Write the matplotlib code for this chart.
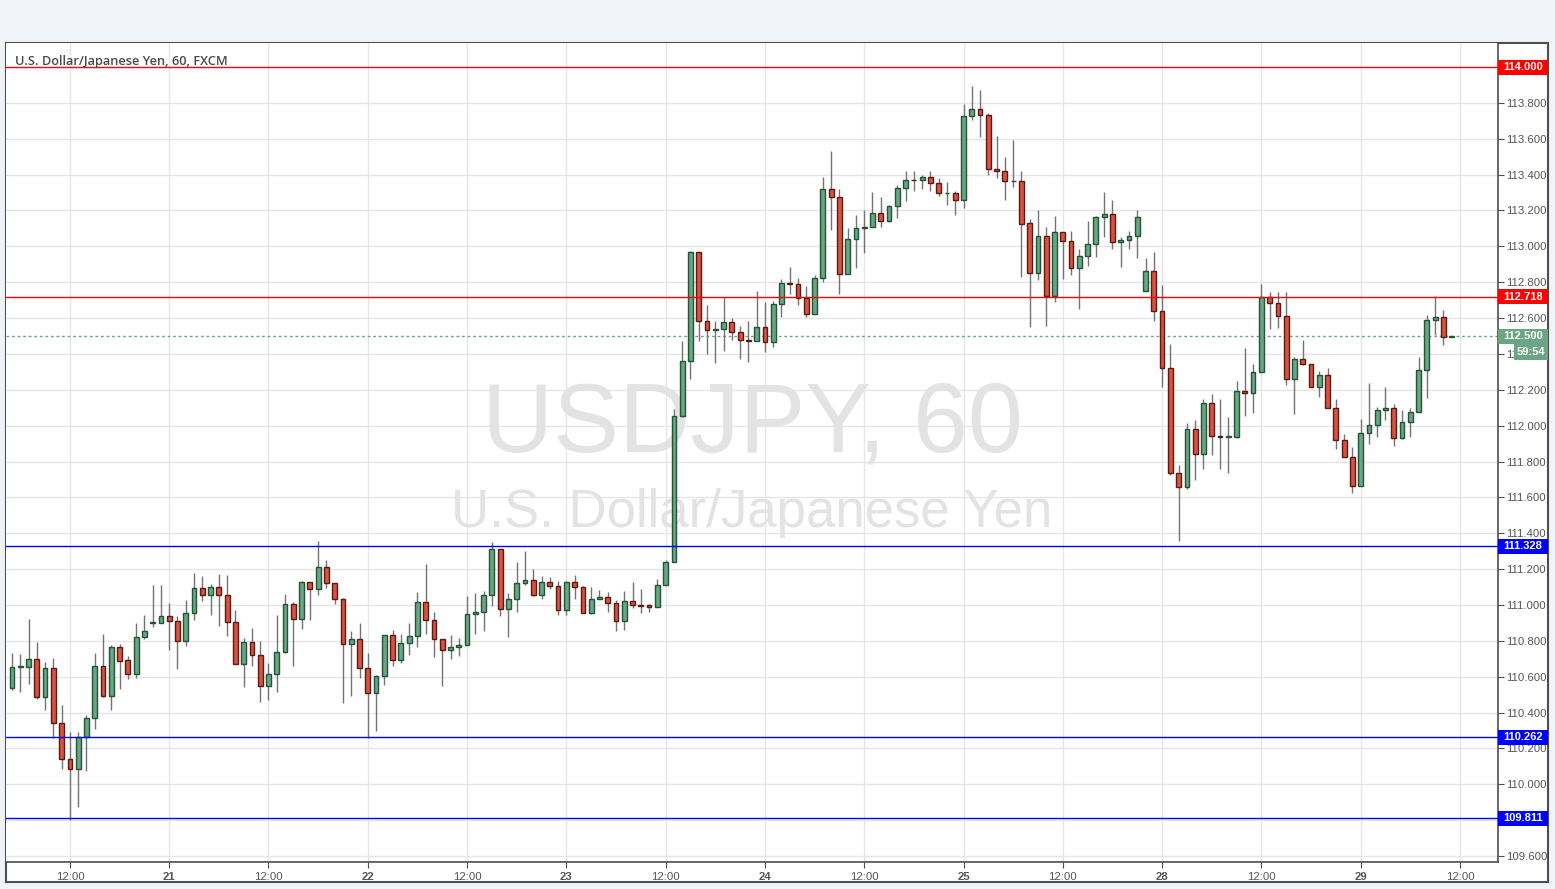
import numpy as np
import matplotlib.pyplot as plt
from matplotlib.patches import Rectangle
import matplotlib.transforms as mtransforms

# hourly USDJPY candles, oldest first
opens = [110.535, 110.652, 110.656, 110.697, 110.485, 110.647, 110.340, 110.140, 110.084, 110.266,
         110.368, 110.658, 110.495, 110.764, 110.692, 110.613, 110.820, 110.899, 110.902, 110.937,
         110.909, 110.797, 110.954, 111.093, 111.054, 111.099, 111.054, 110.903, 110.669, 110.792,
         110.719, 110.547, 110.613, 110.736, 111.004, 110.920, 111.126, 111.087, 111.210, 111.121,
         111.032, 110.781, 110.809, 110.647, 110.507, 110.602, 110.831, 110.691, 110.786, 110.825,
         111.015, 110.915, 110.809, 110.747, 110.764, 110.775, 110.948, 110.959, 111.054, 111.310,
         110.976, 111.032, 111.121, 111.138, 111.054, 111.126, 111.104, 110.970, 111.126, 111.099,
         110.953, 111.032, 111.043, 111.009, 110.909, 111.020, 110.999, 110.998, 110.987, 111.110,
         111.239, 112.056, 112.363, 112.967, 112.582, 112.532, 112.537, 112.577, 112.521, 112.478,
         112.471, 112.549, 112.465, 112.677, 112.794, 112.790, 112.710, 112.621, 112.822, 113.320,
         113.274, 112.844, 113.040, 113.101, 113.107, 113.184, 113.140, 113.223, 113.324, 113.371,
         113.368, 113.385, 113.352, 113.295, 113.296, 113.257, 113.725, 113.764, 113.731, 113.430,
         113.419, 113.362, 113.363, 113.128, 112.850, 113.056, 112.721, 113.078, 113.028, 112.877,
         112.944, 113.011, 113.162, 113.179, 113.022, 113.034, 113.056, 112.749, 112.861, 112.638,
         112.320, 111.735, 111.657, 111.980, 111.840, 112.125, 111.942, 111.938, 111.939, 112.192,
         112.181, 112.298, 112.716, 112.683, 112.610, 112.259, 112.370, 112.342, 112.214, 112.281,
         112.097, 111.919, 111.824, 111.662, 111.958, 112.002, 112.086, 112.097, 111.930, 112.019,
         112.075, 112.309, 112.588, 112.605, 112.494]
highs = [110.732, 110.725, 110.922, 110.794, 110.680, 110.703, 110.441, 110.292, 110.292, 110.385,
         110.732, 110.838, 110.777, 110.781, 110.716, 110.898, 110.944, 111.112, 111.112, 111.011,
         110.939, 111.028, 111.177, 111.162, 111.117, 111.171, 111.167, 110.972, 110.814, 110.872,
         110.799, 110.677, 110.944, 111.061, 111.015, 111.134, 111.130, 111.357, 111.251, 111.125,
         111.037, 110.855, 110.900, 110.733, 110.610, 110.831, 110.861, 110.836, 110.900, 111.073,
         111.229, 110.961, 110.809, 110.831, 110.814, 111.048, 111.067, 111.078, 111.349, 111.310,
         111.067, 111.238, 111.299, 111.199, 111.163, 111.156, 111.132, 111.132, 111.165, 111.104,
         111.099, 111.084, 111.072, 111.026, 111.078, 111.126, 111.087, 111.004, 111.143, 111.250,
         112.094, 112.473, 112.975, 112.967, 112.671, 112.582, 112.720, 112.599, 112.554, 112.584,
         112.751, 112.690, 112.697, 112.816, 112.885, 112.822, 112.779, 112.839, 113.385, 113.532,
         113.320, 113.103, 113.175, 113.203, 113.303, 113.276, 113.228, 113.342, 113.421, 113.421,
         113.396, 113.421, 113.382, 113.359, 113.309, 113.794, 113.895, 113.872, 113.742, 113.616,
         113.499, 113.593, 113.421, 113.153, 113.203, 113.108, 113.169, 113.080, 113.086, 112.983,
         113.141, 113.169, 113.302, 113.256, 113.054, 113.086, 113.203, 112.936, 112.969, 112.785,
         112.456, 111.781, 112.015, 112.032, 112.149, 112.177, 112.149, 112.049, 112.249, 112.433,
         112.342, 112.789, 112.744, 112.744, 112.744, 112.381, 112.478, 112.342, 112.303, 112.320,
         112.147, 111.952, 111.880, 112.036, 112.237, 112.103, 112.214, 112.119, 112.086, 112.097,
         112.381, 112.616, 112.722, 112.644, 112.502]
lows = [110.526, 110.517, 110.561, 110.476, 110.416, 110.257, 110.088, 109.801, 109.876, 110.076,
        110.311, 110.485, 110.415, 110.532, 110.587, 110.595, 110.812, 110.879, 110.898, 110.749,
        110.645, 110.773, 110.916, 111.024, 110.946, 110.885, 110.829, 110.669, 110.545, 110.662,
        110.461, 110.472, 110.515, 110.730, 110.662, 110.868, 110.918, 111.058, 111.097, 111.007,
        110.452, 110.494, 110.595, 110.260, 110.300, 110.556, 110.662, 110.678, 110.723, 110.768,
        110.840, 110.712, 110.550, 110.701, 110.718, 110.775, 110.840, 110.857, 110.994, 110.940,
        110.823, 110.959, 111.110, 111.048, 111.032, 111.089, 110.946, 110.946, 111.032, 110.953,
        110.948, 111.032, 110.959, 110.853, 110.859, 110.981, 110.953, 110.959, 110.987, 111.110,
        111.239, 112.050, 112.259, 112.472, 112.402, 112.352, 112.419, 112.480, 112.374, 112.357,
        112.471, 112.413, 112.441, 112.608, 112.733, 112.671, 112.608, 112.621, 112.803, 113.093,
        112.737, 112.844, 112.882, 112.965, 113.107, 113.110, 113.138, 113.160, 113.255, 113.311,
        113.322, 113.311, 113.279, 113.233, 113.177, 113.216, 113.707, 113.612, 113.400, 113.383,
        113.261, 113.333, 112.831, 112.552, 112.814, 112.558, 112.692, 112.820, 112.842, 112.653,
        112.892, 112.942, 113.050, 112.983, 112.887, 112.983, 112.937, 112.749, 112.586, 112.218,
        111.727, 111.359, 111.649, 111.699, 111.761, 111.839, 111.761, 111.738, 111.933, 112.056,
        112.073, 112.298, 112.541, 112.547, 112.225, 112.067, 112.337, 112.214, 112.162, 112.097,
        111.872, 111.824, 111.623, 111.662, 111.896, 111.935, 112.030, 111.885, 111.924, 111.935,
        112.075, 112.153, 112.504, 112.448, 112.494]
closes = [110.652, 110.658, 110.697, 110.485, 110.647, 110.340, 110.140, 110.084, 110.266, 110.368,
          110.658, 110.495, 110.764, 110.690, 110.613, 110.820, 110.853, 110.905, 110.937, 110.909,
          110.797, 110.954, 111.093, 111.054, 111.099, 111.054, 110.903, 110.669, 110.792, 110.719,
          110.547, 110.613, 110.736, 111.004, 110.920, 111.126, 111.087, 111.210, 111.121, 111.032,
          110.781, 110.809, 110.647, 110.507, 110.602, 110.831, 110.691, 110.786, 110.825, 111.015,
          110.915, 110.809, 110.747, 110.764, 110.775, 110.948, 110.959, 111.054, 111.310, 110.976,
          111.032, 111.121, 111.138, 111.054, 111.126, 111.104, 110.970, 111.126, 111.099, 110.953,
          111.032, 111.043, 111.009, 110.909, 111.020, 110.998, 110.997, 110.987, 111.110, 111.238,
          112.056, 112.363, 112.967, 112.582, 112.532, 112.537, 112.577, 112.521, 112.476, 112.474,
          112.549, 112.465, 112.677, 112.794, 112.790, 112.710, 112.621, 112.822, 113.320, 113.274,
          112.844, 113.040, 113.103, 113.107, 113.184, 113.140, 113.223, 113.324, 113.370, 113.368,
          113.385, 113.352, 113.296, 113.297, 113.257, 113.725, 113.764, 113.731, 113.430, 113.419,
          113.363, 113.364, 113.127, 112.850, 113.056, 112.721, 113.078, 113.028, 112.877, 112.944,
          113.011, 113.162, 113.179, 113.022, 113.034, 113.056, 113.162, 112.861, 112.638, 112.320,
          111.735, 111.657, 111.980, 111.840, 112.125, 111.941, 111.938, 111.942, 112.192, 112.181,
          112.298, 112.716, 112.683, 112.610, 112.259, 112.370, 112.342, 112.214, 112.281, 112.097,
          111.919, 111.824, 111.662, 111.958, 112.002, 112.086, 112.097, 111.930, 112.019, 112.075,
          112.309, 112.588, 112.605, 112.493, 112.500]

tick_labels = ['12:00', '21', '12:00', '22', '12:00', '23', '12:00', '24',
               '12:00', '25', '12:00', '28', '12:00', '29', '12:00']
first_tick = 7   # candle index of the first 12:00 label
red_levels = [114.000, 112.718]
blue_levels = [111.328, 110.262, 109.811]
last_price = 112.500
countdown = '59:54'

W, H = 1555, 889
up_fill, up_edge = '#6ba583', '#225437'
dn_fill, dn_edge = '#d75442', '#5b1a13'
wick_c = '#737375'
txt_c = '#555555'
frame_c = '#4e4e4e'

fig = plt.figure(figsize=(W / 100, H / 100), dpi=100, facecolor='#f0f3f7')
# outer chart frame (plot + price scale + time scale)
frame = Rectangle((6 / W, 1 - 882 / H), 1542 / W, 839 / H, transform=fig.transFigure,
                  facecolor='white', edgecolor=frame_c, lw=1.5, zorder=-5)
fig.add_artist(frame)
ax = fig.add_axes([6 / W, 1 - 862 / H, 1492 / W, 819 / H])
ax.set_zorder(1)
ax.set_facecolor('white')

o = np.array(opens); c = np.array(closes)
h = np.array(highs); l = np.array(lows)
x = np.arange(len(o))
up = c >= o

ax.vlines(x, l, h, color=wick_c, lw=1, zorder=3)
body_lo = np.minimum(o, c)
body_h = np.maximum(np.abs(c - o), 0.004)
ax.bar(x[up], body_h[up], bottom=body_lo[up], width=0.58, color=up_fill,
       edgecolor=up_edge, lw=1, zorder=4)
ax.bar(x[~up], body_h[~up], bottom=body_lo[~up], width=0.58, color=dn_fill,
       edgecolor=dn_edge, lw=1, zorder=4)

for lv in red_levels:
    ax.axhline(lv, color='#ff0000', lw=1, zorder=5)
for lv in blue_levels:
    ax.axhline(lv, color='#0000ff', lw=1, zorder=5)
ax.axhline(last_price, color=up_fill, lw=1, ls=(0, (2, 2)), zorder=2)

ax.set_xlim(-0.725, 179.6)
ax.set_ylim(109.567, 114.134)

yt = np.round(np.arange(109.6, 113.81, 0.2), 1)
ax.set_yticks(yt)
ax.set_yticklabels(['%.3f' % v for v in yt])
ax.yaxis.tick_right()
xt = [first_tick + 12 * k for k in range(len(tick_labels))]
ax.set_xticks(xt)
ax.set_xticklabels(tick_labels)
for t in ax.get_xticklabels():
    if ':' not in t.get_text():
        t.set_fontweight('bold')
ax.tick_params(axis='y', length=4, color=frame_c, labelsize=8.2, labelcolor=txt_c, pad=1.5)
ax.tick_params(axis='x', length=4, color=frame_c, labelsize=8.2, labelcolor=txt_c, pad=3)
for lab in ax.get_xticklabels() + ax.get_yticklabels():
    lab.set_family('Liberation Sans')
ax.grid(True, color='#e6e6e6', lw=1, zorder=0)
ax.set_axisbelow(True)
for s in ['left', 'top']:
    ax.spines[s].set_visible(False)
for s in ['right', 'bottom']:
    ax.spines[s].set_color(frame_c)
    ax.spines[s].set_linewidth(1.2)

# watermark
ax.text(0.5, 0.532, 'USDJPY, 60', transform=ax.transAxes, ha='center', va='center',
        fontsize=71, color='#e3e3e3', family='Liberation Sans', zorder=1)
ax.text(0.5, 0.426, 'U.S. Dollar/Japanese Yen', transform=ax.transAxes, ha='center', va='center',
        fontsize=38, color='#e3e3e3', family='Liberation Sans', zorder=1)
ax.text(9 / 1492, 1 - 19 / 819, 'U.S. Dollar/Japanese Yen, 60, FXCM', transform=ax.transAxes,
        ha='left', va='center', fontsize=9.2, color='#4a4a4a', family='Open Sans',
        fontweight='semibold', zorder=6)

# price scale labels
tr = mtransforms.blended_transform_factory(ax.transAxes, ax.transData)
px = 1 / 179.3  # price per pixel


def tag(y, text, color, x0=0, x1=50, hpx=15):
    ax.add_patch(Rectangle((1 + x0 / 1492, y - hpx / 2 * px), (x1 - x0) / 1492, hpx * px,
                           transform=tr, facecolor=color, edgecolor='none', clip_on=False, zorder=10))
    ax.text(1 + (x0 + x1) / 2 / 1492, y, text, transform=tr, ha='center', va='center',
            color='white', fontsize=8, fontweight='bold', family='Liberation Sans',
            clip_on=False, zorder=11)


for lv in red_levels:
    tag(lv, '%.3f' % lv, '#ff0000')
for lv in blue_levels:
    tag(lv, '%.3f' % lv, '#0000ff')
tag(last_price, '%.3f' % last_price, up_fill)
tag(last_price - 16 * px, countdown, up_fill, x0=16, hpx=16)

fig.savefig('out.png', dpi=100, facecolor=fig.get_facecolor())
